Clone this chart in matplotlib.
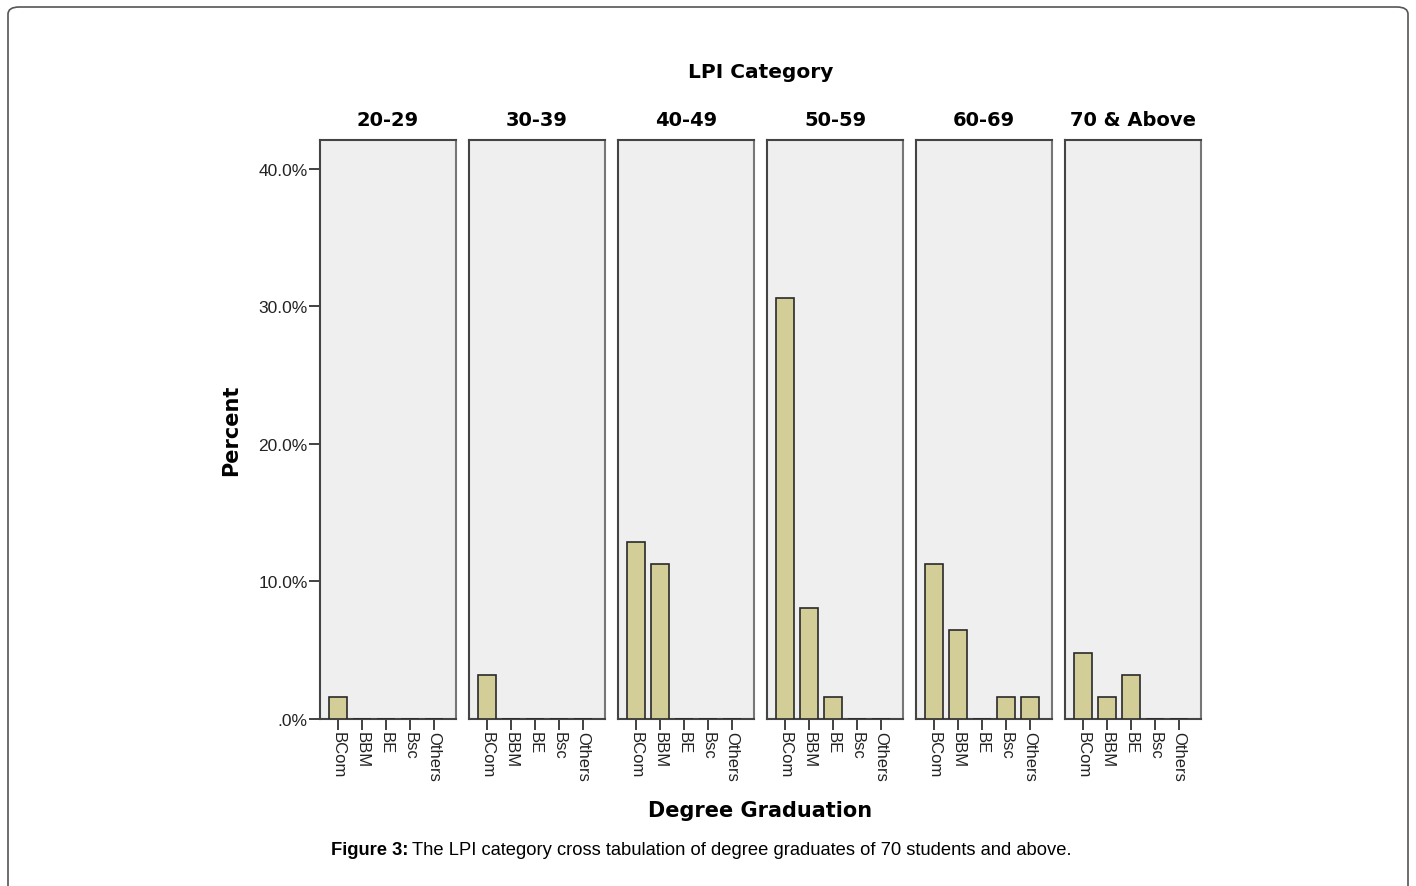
import numpy as np
import matplotlib
matplotlib.use("Agg")
from matplotlib import pyplot as plt
from matplotlib.patches import FancyBboxPatch

# LPI category panels and degree categories
groups = ["20-29", "30-39", "40-49", "50-59", "60-69", "70 & Above"]
degrees = ["BCom", "BBM", "BE", "Bsc", "Others"]

# percent of 62 students per (group, degree)
pct_2029 = [1.6, 0, 0, 0, 0]
pct_3039 = [3.2, 0, 0, 0, 0]
pct_4049 = [12.9, 11.3, 0, 0, 0]
pct_5059 = [30.6, 8.1, 1.6, 0, 0]
pct_6069 = [11.3, 6.5, 0, 1.6, 1.6]
pct_70up = [4.8, 1.6, 3.2, 0, 0]
values = [pct_2029, pct_3039, pct_4049, pct_5059, pct_6069, pct_70up]

yticks = [0, 10, 20, 30, 40]
ytick_labels = [".0%", "10.0%", "20.0%", "30.0%", "40.0%"]

W, H = 1416, 887
fig = plt.figure(figsize=(W / 100, H / 100), dpi=100)

# outer rounded frame
frame = FancyBboxPatch((8 / W, -0.05), 1400 / W, (H - 8) / H + 0.05,
                       boxstyle="round,pad=0,rounding_size=0.008",
                       transform=fig.transFigure, fill=False,
                       edgecolor="#555555", linewidth=1.2)
fig.patches.append(frame)

left0 = 320
pw = 136
gap = 13
top, bottom = 141, 720
bar_col = "#d3ce97"
edge_col = "#2a2a2a"
tick_font = "Liberation Sans"

for i, (g, vals) in enumerate(zip(groups, values)):
    x0 = left0 + i * (pw + gap)
    ax = fig.add_axes([x0 / W, 1 - bottom / H, pw / W, (bottom - top) / H])
    ax.set_facecolor("#efefef")
    x = np.arange(len(degrees))
    ax.bar(x, vals, width=0.75, color=bar_col, edgecolor=edge_col, linewidth=1.2, zorder=3)
    ax.set_xlim(-0.75, 4.92)
    ax.set_ylim(0, 42.1)
    for s in ax.spines.values():
        s.set_color("#444444")
        s.set_linewidth(1.5)
    ax.spines["right"].set_color("#777777")
    ax.set_xticks(x)
    ax.set_xticklabels(degrees, rotation=-90, fontsize=12, color="#222222",
                       family=tick_font)
    ax.tick_params(axis="x", length=8, width=1.3, color="#333333", pad=1)
    if i == 0:
        ax.set_yticks(yticks)
        ax.set_yticklabels(ytick_labels, fontsize=12.5, color="#222222", family=tick_font)
        ax.tick_params(axis="y", length=8, width=1.3, color="#333333", pad=1)
    else:
        ax.set_yticks([])
    ax.set_title(g, fontsize=14, fontweight="bold", pad=11)

fig.text(761 / W, 1 - 72 / H, "LPI Category", ha="center", va="center",
         fontsize=14.5, fontweight="bold")
fig.text(231 / W, 1 - 430 / H, "Percent", ha="center", va="center",
         rotation=90, fontsize=15, fontweight="bold")
fig.text(760 / W, 1 - 811 / H, "Degree Graduation", ha="center", va="center",
         fontsize=15, fontweight="bold")

cap_bold = fig.text(331 / W, 1 - 851 / H, "Figure 3:", ha="left", va="center",
                    fontsize=13.2, fontweight="bold", family=tick_font)
fig.canvas.draw()
bb = cap_bold.get_window_extent()
fig.text((bb.x1 + 4) / W, 1 - 851 / H,
         "The LPI category cross tabulation of degree graduates of 70 students and above.",
         ha="left", va="center", fontsize=13.2, family=tick_font)

fig.savefig("out.png", dpi=100)
